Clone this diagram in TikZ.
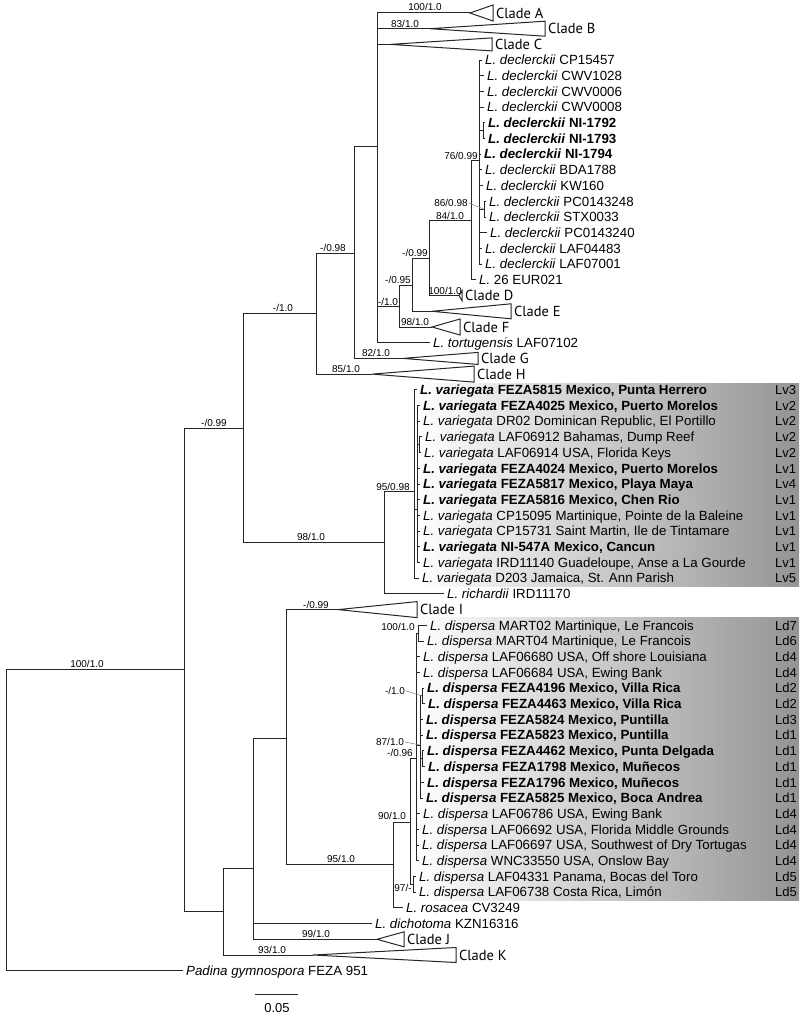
\documentclass[tikz,border=0pt]{standalone}
\usepackage{fontspec}
\setmainfont{Liberation Sans}
\newfontfamily\cladefont{PT Sans}
\pgfmathdeclarefunction{ry}{1}{\pgfmathparse{13+15.7*(#1-1)}}
% leaf: parent, tip x, row, text
\newcommand{\lf}[4]{%
  \coordinate (t#3) at (#2,{ry(#3)});
  \draw[br] (#1) |- (t#3);
  \node[leaf] (l#3) at ([xshift=3pt]t#3) {#4};}
% collapsed clade: parent, apex x, base x, half height, row, letter
\newcommand{\cld}[6]{%
  \coordinate (a#5) at (#2,{ry(#5)});
  \coordinate (b#5) at (#3,{ry(#5)-#4});
  \coordinate (bb#5) at (#3,{ry(#5)+#4});
  \draw[br] (#1) |- (a#5);
  \draw[br] (a#5) -- (b#5) -- (bb#5) -- cycle;
  \node[clade] (c#5) at (#3+3,{ry(#5)}) {Clade #6};}
\newcommand{\vd}[2]{\node[tag] (g#1) at (775,{ry(#1)}) {#2};}
\begin{document}
\begin{tikzpicture}[x=1pt,y=-1pt,
  br/.style={line width=1pt,draw=black!85,line join=miter},
  leaf/.style={anchor=base west,inner sep=0pt,yshift=-4.7pt,font=\fontsize{13.3}{15}\selectfont},
  tag/.style={anchor=base west,inner sep=0pt,yshift=-4.7pt,font=\fontsize{13}{15}\selectfont},
  sup/.style={inner sep=0pt,font=\fontsize{10}{11}\selectfont},
  clade/.style={anchor=west,inner sep=0pt,font=\cladefont\fontsize{14.5}{16}\selectfont},
  lead/.style={draw=gray,line width=0.5pt}]
\useasboundingbox (0,0) rectangle (802,1019);
% shaded groups
\shade[left color=white,right color=black!42] (416,383) rectangle (799,586);
\shade[left color=white,right color=black!42] (414,617) rectangle (799,900);
% internal nodes
\coordinate (n6) at (6,820);
\coordinate (n184) at (184,669.5);
\coordinate (n243) at (243,428);
\coordinate (n316) at (316,313.5);
\coordinate (n354) at (354,253);
\coordinate (n377) at (377,147);
\coordinate (n399) at (399,306);
\coordinate (n412) at (412,285);
\coordinate (n429) at (429,258);
\coordinate (n471) at (471,220);
\coordinate (n479) at (479,161);
\coordinate (n479a) at (483,130.75);
\coordinate (n479b) at (484,209.25);
\coordinate (n384) at (384,542);
\coordinate (n414) at (414,491);
\coordinate (n417) at (417,509);
\coordinate (n419) at (419,444.75);
\coordinate (n223) at (223,911);
\coordinate (n253) at (253,868);
\coordinate (n286) at (286,738);
\coordinate (n393) at (393,864);
\coordinate (n410) at (410,822);
\coordinate (n413) at (413,884.35);
\coordinate (n416) at (416,758);
\coordinate (n418) at (418,633.15);
\coordinate (n420) at (420,745);
\coordinate (n422a) at (422,695.95);
\coordinate (n422b) at (422,758.75);
% backbone
\draw[br] (n6) |- (n184);
\draw[br] (n184) |- (n243);
\draw[br] (n184) |- (n223);
\draw[br] (n243) |- (n316);
\draw[br] (n243) |- (n384);
\draw[br] (n316) |- (n354);
\draw[br] (n354) |- (n377);
\draw[br] (n377) |- (n399);
\draw[br] (n399) |- (n412);
\draw[br] (n412) |- (n429);
\draw[br] (n429) |- (n471);
\draw[br] (n471) |- (n479);
\draw[br] (n479) |- (n479a);
\draw[br] (n479) |- (n479b);
\draw[br] (n384) |- (n414);
\draw[br] (n414) |- (n417);
\draw[br] (n417) |- (n419);
\draw[br] (n223) |- (n253);
\draw[br] (n253) |- (n286);
\draw[br] (n286) |- (n393);
\draw[br] (n393) |- (n410);
\draw[br] (n410) |- (n416);
\draw[br] (n410) |- (n413);
\draw[br] (n416) |- (n418);
\draw[br] (n416) |- (n420);
\draw[br] (n420) |- (n422a);
\draw[br] (n420) |- (n422b);
% collapsed clades
\cld{n377}{470}{493}{8}{1}{A}
\cld{n377}{430}{545}{7.5}{2}{B}
\cld{n377}{390}{492}{6.5}{3}{C}
\cld{n429}{459}{462}{5}{19}{D}
\cld{n412}{432}{511}{7.5}{20}{E}
\cld{n399}{432}{460}{8}{21}{F}
\cld{n354}{403}{478}{6}{23}{G}
\cld{n316}{372}{474}{8}{24}{H}
\cld{n286}{338}{417}{8}{39}{I}
\cld{n253}{377}{404}{7.5}{60}{J}
\cld{n223}{313}{456}{7.5}{61}{K}
% declerckii
\lf{n479}{482}{4}{\textit{L. declerckii} CP15457}
\lf{n479}{484}{5}{\textit{L. declerckii} CWV1028}
\lf{n479}{484}{6}{\textit{L. declerckii} CWV0006}
\lf{n479}{484}{7}{\textit{L. declerckii} CWV0008}
\lf{n479a}{485}{8}{\textbf{\textit{L. declerckii} NI-1792}}
\lf{n479a}{485}{9}{\textbf{\textit{L. declerckii} NI-1793}}
\lf{n479}{481}{10}{\textbf{\textit{L. declerckii} NI-1794}}
\lf{n479}{482}{11}{\textit{L. declerckii} BDA1788}
\lf{n479}{483}{12}{\textit{L. declerckii} KW160}
\lf{n479b}{486}{13}{\textit{L. declerckii} PC0143248}
\lf{n479b}{486}{14}{\textit{L. declerckii} STX0033}
\lf{n479}{487}{15}{\textit{L. declerckii} PC0143240}
\lf{n479}{482}{16}{\textit{L. declerckii} LAF04483}
\lf{n479}{482}{17}{\textit{L. declerckii} LAF07001}
\lf{n471}{476}{18}{\textit{L.} 26 EUR021}
\lf{n377}{430}{22}{\textit{L. tortugensis} LAF07102}
% variegata
\lf{n414}{417}{25}{\textbf{\textit{L. variegata} FEZA5815 Mexico, Punta Herrero}}
\lf{n417}{420}{26}{\textbf{\textit{L. variegata} FEZA4025 Mexico, Puerto Morelos}}
\lf{n417}{420}{27}{\textit{L. variegata} DR02 Dominican Republic, El Portillo}
\lf{n419}{422}{28}{\textit{L. variegata} LAF06912 Bahamas, Dump Reef}
\lf{n419}{421}{29}{\textit{L. variegata} LAF06914 USA, Florida Keys}
\lf{n417}{420}{30}{\textbf{\textit{L. variegata} FEZA4024 Mexico, Puerto Morelos}}
\lf{n417}{420}{31}{\textbf{\textit{L. variegata} FEZA5817 Mexico, Playa Maya}}
\lf{n417}{420}{32}{\textbf{\textit{L. variegata} FEZA5816 Mexico, Chen Rio}}
\lf{n417}{420}{33}{\textit{L. variegata} CP15095 Martinique, Pointe de la Baleine}
\lf{n417}{420}{34}{\textit{L. variegata} CP15731 Saint Martin, Ile de Tintamare}
\lf{n417}{420}{35}{\textbf{\textit{L. variegata} NI-547A Mexico, Cancun}}
\lf{n417}{420}{36}{\textit{L. variegata} IRD11140 Guadeloupe, Anse a La Gourde}
\lf{n414}{419}{37}{\textit{L. variegata} D203 Jamaica, St. Ann Parish}
\lf{n384}{444}{38}{\textit{L. richardii} IRD11170}
% dispersa
\lf{n418}{427}{40}{\textit{L. dispersa} MART02 Martinique, Le Francois}
\lf{n418}{424}{41}{\textit{L. dispersa} MART04 Martinique, Le Francois}
\lf{n416}{420}{42}{\textit{L. dispersa} LAF06680 USA, Off shore Louisiana}
\lf{n416}{420}{43}{\textit{L. dispersa} LAF06684 USA, Ewing Bank}
\lf{n422a}{424}{44}{\textbf{\textit{L. dispersa} FEZA4196 Mexico, Villa Rica}}
\lf{n422a}{425}{45}{\textbf{\textit{L. dispersa} FEZA4463 Mexico, Villa Rica}}
\lf{n420}{423}{46}{\textbf{\textit{L. dispersa} FEZA5824 Mexico, Puntilla}}
\lf{n420}{423}{47}{\textbf{\textit{L. dispersa} FEZA5823 Mexico, Puntilla}}
\lf{n422b}{424}{48}{\textbf{\textit{L. dispersa} FEZA4462 Mexico, Punta Delgada}}
\lf{n422b}{425}{49}{\textbf{\textit{L. dispersa} FEZA1798 Mexico, Muñecos}}
\lf{n420}{424}{50}{\textbf{\textit{L. dispersa} FEZA1796 Mexico, Muñecos}}
\lf{n420}{423}{51}{\textbf{\textit{L. dispersa} FEZA5825 Mexico, Boca Andrea}}
\lf{n416}{420}{52}{\textit{L. dispersa} LAF06786 USA, Ewing Bank}
\lf{n416}{419}{53}{\textit{L. dispersa} LAF06692 USA, Florida Middle Grounds}
\lf{n416}{419}{54}{\textit{L. dispersa} LAF06697 USA, Southwest of Dry Tortugas}
\lf{n416}{419}{55}{\textit{L. dispersa} WNC33550 USA, Onslow Bay}
\lf{n413}{416}{56}{\textit{L. dispersa} LAF04331 Panama, Bocas del Toro}
\lf{n413}{416}{57}{\textit{L. dispersa} LAF06738 Costa Rica, Limón}
\lf{n393}{403}{58}{\textit{L. rosacea} CV3249}
\lf{n253}{372}{59}{\textit{L. dichotoma} KZN16316}
\lf{n6}{183}{62}{\textit{Padina gymnospora} FEZA 951}
% group tags
\vd{25}{Lv3}\vd{26}{Lv2}\vd{27}{Lv2}\vd{28}{Lv2}\vd{29}{Lv2}\vd{30}{Lv1}\vd{31}{Lv4}
\vd{32}{Lv1}\vd{33}{Lv1}\vd{34}{Lv1}\vd{35}{Lv1}\vd{36}{Lv1}\vd{37}{Lv5}
\vd{40}{Ld7}\vd{41}{Ld6}\vd{42}{Ld4}\vd{43}{Ld4}\vd{44}{Ld2}\vd{45}{Ld2}\vd{46}{Ld3}
\vd{47}{Ld1}\vd{48}{Ld1}\vd{49}{Ld1}\vd{50}{Ld1}\vd{51}{Ld1}\vd{52}{Ld4}\vd{53}{Ld4}
\vd{54}{Ld4}\vd{55}{Ld4}\vd{56}{Ld5}\vd{57}{Ld5}
% support values
\node[sup] (s1) at (425,7) {100/1.0};
\node[sup] (s2) at (405,24) {83/1.0};
\node[sup] (s3) at (388,302) {-/1.0};
\node[sup] (s4) at (398,280) {-/0.95};
\node[sup] (s5) at (415,253) {-/0.99};
\node[sup] (s6) at (450,216) {84/1.0};
\node[sup] (s7) at (451,203) {86/0.98};
\node[sup] (s8) at (461,156) {76/0.99};
\node[sup] (s9) at (445,291) {100/1.0};
\node[sup] (s10) at (415,322) {98/1.0};
\node[sup] (s11) at (333,248) {-/0.98};
\node[sup] (s12) at (283,308) {-/1.0};
\node[sup] (s13) at (376,353) {82/1.0};
\node[sup] (s14) at (346,369) {85/1.0};
\node[sup] (s15) at (214,423) {-/0.99};
\node[sup] (s16) at (311,537) {98/1.0};
\node[sup] (s17) at (393,487) {95/0.98};
\node[sup] (s18) at (87,664) {100/1.0};
\node[sup] (s19) at (316,605) {-/0.99};
\node[sup] (s20) at (398,627) {100/1.0};
\node[sup] (s21) at (395,691) {-/1.0};
\node[sup] (s22) at (390,742) {87/1.0};
\node[sup] (s23) at (400,753) {-/0.96};
\node[sup] (s24) at (392,816) {90/1.0};
\node[sup] (s25) at (341,859) {95/1.0};
\node[sup] (s26) at (403,888) {97/-};
\node[sup] (s27) at (316,934) {99/1.0};
\node[sup] (s28) at (272,950) {93/1.0};
% leader lines
\draw[lead] (s7.east) ++(1,0) -- (n479b);
\draw[lead] (s21.east) ++(1,0) -- (n422a);
\draw[lead] (s22.east) ++(1,0) -- (n420);
% scale bar
\coordinate (sb1) at (255,994);
\coordinate (sb2) at (298,994);
\draw[br] (sb1) -- (sb2);
\node[inner sep=0pt,font=\fontsize{13}{15}\selectfont] (sbl) at (277,1008) {0.05};
\end{tikzpicture}
\end{document}
